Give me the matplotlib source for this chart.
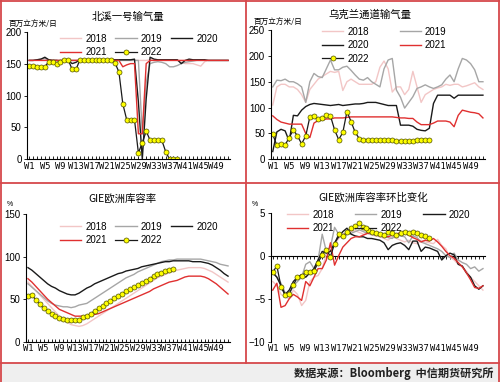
import matplotlib
matplotlib.use("Agg")
import matplotlib.pyplot as plt
from matplotlib.lines import Line2D
from matplotlib.patches import Rectangle

plt.rcParams['font.family'] = ['Liberation Sans', 'Noto Sans CJK SC', 'DejaVu Sans']

weeks = list(range(1, 53))
week_labels = ["W%d" % w for w in weeks]
label_weeks = list(range(1, 53, 4))

# ---- 北溪一号输气量 (百万立方米/日)
nord_2018 = [155,155,156,155,155,156,155,155,155,156,155,155,155,156,155,155,155,156,155,155,155,155,156,155,155,155,155,155,155,155,155,156,155,155,155,155,155,155,155,152,150,150,150,148,146,153,155,155,155,155,155,155]
nord_2019 = [155,155,156,157,158,156,155,155,155,155,155,155,155,155,155,155,155,155,155,155,155,155,155,155,155,155,155,155,155,40,120,150,152,153,152,150,145,145,147,150,152,153,154,155,155,155,155,155,155,155,155,155]
nord_2020 = [155,155,156,157,160,156,155,155,154,155,155,150,152,156,156,156,156,156,156,156,156,156,156,156,156,156,156,157,90,0,95,160,157,156,156,156,156,156,156,150,155,157,156,156,156,156,155,155,155,155,155,155]
nord_2021 = [155,155,155,155,155,155,155,155,155,155,155,155,155,155,155,155,155,155,155,155,155,155,155,155,145,148,150,150,40,40,150,155,155,155,155,155,155,155,155,155,155,155,155,155,155,155,155,155,155,155,155,155]
nord_2022 = [146,146,145,144,145,153,153,149,152,156,156,141,141,156,156,156,155,155,156,156,156,156,151,137,87,62,62,62,10,26,44,30,30,30,30,12,0,0,0]

# ---- 乌克兰通道输气量 (百万立方米/日)
ukr_2018 = [105,140,145,145,140,140,135,125,110,135,145,155,160,165,170,168,170,133,150,155,150,145,145,145,145,150,178,190,175,130,140,140,125,135,170,140,110,125,130,135,138,140,145,143,145,145,140,142,145,148,140,135]
ukr_2019 = [140,153,152,155,150,150,146,140,110,150,166,160,158,175,192,173,173,178,180,172,163,155,153,158,150,145,140,175,192,195,134,120,99,110,121,137,140,144,140,137,140,144,155,163,150,175,195,192,185,173,150,150]
ukr_2020 = [15,53,58,55,35,85,84,95,102,106,108,107,106,105,104,105,106,104,105,106,107,107,108,110,110,110,108,106,104,104,104,66,66,66,64,58,56,55,60,108,124,124,124,124,118,124,124,124,124,124,124,124]
ukr_2021 = [84,77,72,70,68,68,68,68,50,42,70,75,76,78,78,80,80,80,81,82,82,82,82,82,82,82,82,82,82,82,81,80,80,79,79,72,67,67,67,70,74,74,74,72,63,85,95,93,91,90,88,80]
ukr_2022 = [48,27,30,28,42,57,45,30,45,82,83,77,80,85,84,57,38,52,92,73,52,40,38,38,38,37,37,37,37,37,36,36,36,36,36,37,37,37,37]

# ---- GIE欧洲库容率 (%)
gie_2018 = [70,65,60,55,50,45,40,35,30,26,23,20,19,18,19,21,24,27,30,33,36,39,42,45,48,51,54,57,60,63,66,69,72,75,77,79,81,83,84,85,86,87,87,87,87,86,84,82,79,76,73,70]
gie_2019 = [68,64,60,56,52,48,45,43,42,41,41,40,41,43,44,45,48,51,54,57,60,63,66,69,72,75,77,79,82,84,86,88,90,92,94,95,96,96,97,97,97,97,97,97,97,96,95,94,93,91,90,89]
gie_2020 = [87,84,80,76,72,68,65,63,60,58,56,55,55,57,60,63,65,68,70,72,74,76,78,80,81,83,84,85,86,88,89,90,91,92,93,94,94,95,95,95,95,95,94,94,94,93,92,90,87,84,80,77]
gie_2021 = [74,70,65,60,55,50,46,42,38,36,34,32,30,30,30,30,31,32,33,35,37,39,41,43,45,47,49,51,53,55,57,59,62,64,66,68,70,71,72,74,76,77,77,77,77,76,74,71,68,64,60,56]
gie_2022 = [54,55,49,44,39,36,33,30.5,28,26.6,25.5,25.5,25.5,26,28.6,30.5,33,36,39,42,45,48,51,54,56,59,61.5,64,66.6,69,71.7,74,76.8,79,81,83,84.6,85]

# ---- GIE欧洲库容率环比变化 (%)
chg_2018 = [-3,-3.5,-4.5,-4.8,-5,-4.0,-4.5,-5.8,-5.2,-3,-2.5,-2.3,-1.5,0.2,0.5,1.3,2.0,2.5,2.7,2.8,2.9,2.7,2.5,2.6,2.4,2.3,2.2,2.0,1.8,2.2,2.0,1.8,1.6,1.8,1.5,1.4,1.8,1.6,1.5,1.4,1.9,1.2,0.8,-0.2,-0.5,-1.0,-1.3,-1.8,-2.5,-3.0,-3.5,-4.0]
chg_2019 = [-1.8,-2.5,-3.2,-4.3,-4.5,-3.5,-3,-2.5,-1.0,-0.7,-1.5,-0.5,2.5,0.5,1.0,3.3,2.5,2.0,2.5,2.6,2.8,3.0,2.8,2.6,2.5,2.4,2.6,2.3,2.1,2.0,2.5,2.3,2.2,1.5,2.3,2.1,1.6,1.4,1.2,1.0,0.8,0.5,0.0,-0.2,0.3,-0.5,-0.8,-1.0,-1.5,-1.3,-1.8,-1.5]
chg_2020 = [-2,-2.5,-3.5,-4.5,-4,-3,-2.5,-2.2,-2.5,-2,-1.5,-0.5,0.5,0.3,0.5,1.5,2.2,2.8,3.2,2.5,2.3,2.2,2.2,2.0,2.0,1.9,1.8,1.5,0.7,1.2,1.4,1.5,1.2,0.7,1.7,1.7,0.5,1.0,0.9,0.7,0.5,-0.5,0.0,0.3,0.1,-1.0,-1.2,-2.0,-2.5,-3.5,-3.9,-3.5]
chg_2021 = [-4,-3.2,-6,-5.8,-5,-4.5,-4.8,-5.2,-3.0,-3.5,-2.5,-1.5,-1.5,-0.5,1.5,-1.1,0,1.0,1.5,2.0,2.2,2.2,2.4,2.6,2.7,2.6,2.5,2.3,2.2,2.4,2.5,2.7,2.6,2.4,2.1,1.9,1.6,1.8,1.7,2.0,1.6,1.1,0.5,0.0,-0.3,-0.8,-1.3,-2.0,-2.8,-3.7,-3.8,-3.5]
chg_2022 = [-1.9,-1.2,-3.6,-4.6,-4.4,-3.4,-2.5,-2.4,-1.9,-1.9,-1.8,-0.8,0.1,0.7,-0.1,1.4,2.5,2.3,2.7,3.2,3.4,3.8,3.3,3.0,2.8,2.6,2.5,2.4,2.7,2.6,2.4,2.6,2.8,2.6,2.8,2.6,2.4,2.3,2.1]

years = ["2018", "2019", "2020", "2021", "2022"]
colors = {"2018": "#f2c6c6", "2019": "#a6a6a6", "2020": "#1a1a1a", "2021": "#e03030"}

W, H = 500, 382
fig = plt.figure(figsize=(W / 100, H / 100), dpi=100)
fig.patch.set_facecolor("white")

def fx(px):
    return px / W

def fy(py):
    return 1 - py / H

def make_ax(l, r, t, b):
    return fig.add_axes([fx(l), fy(b), fx(r) - fx(l), fy(t) - fy(b)])

tick_font = dict(family="DejaVu Sans Mono", size=6.3)

def style_ax(ax, ylim, yticks, zero_axis=False):
    ax.set_xlim(0.5, 52.5)
    ax.set_ylim(*ylim)
    ax.set_yticks(yticks)
    ax.set_xticks(label_weeks)
    ax.set_xticklabels([week_labels[w - 1] for w in label_weeks], **tick_font)
    for s in ["top", "right"]:
        ax.spines[s].set_visible(False)
    ax.spines["left"].set_linewidth(0.8)
    ax.tick_params(axis="y", labelsize=7, length=2.5, width=0.6, pad=1.5)
    if zero_axis:
        ax.spines["bottom"].set_visible(False)
        ax.tick_params(axis="x", length=0, pad=2)
        frac = (0 - ylim[0]) / (ylim[1] - ylim[0])
        sec = ax.secondary_xaxis(frac)
        sec.set_xticks(weeks)
        sec.set_xticklabels([])
        sec.tick_params(axis="x", direction="in", length=2, width=0.6)
        sec.spines["bottom"].set_linewidth(0.8)
    else:
        ax.spines["bottom"].set_linewidth(0.8)
        ax.set_xticks(weeks, minor=True)
        ax.tick_params(axis="x", which="both", direction="in", length=2, width=0.6, pad=2)
    ax.patch.set_alpha(0)

def plot_series(ax, data):
    handles = {}
    for y in years[:4]:
        vals = data[y]
        (h,) = ax.plot(weeks[:len(vals)], vals, color=colors[y], lw=1.0)
        handles[y] = h
    v22 = data["2022"]
    (h,) = ax.plot(weeks[:len(v22)], v22, color="#1a1a1a", lw=0.9, marker="o",
                   markersize=3.6, markerfacecolor="#ffff00", markeredgecolor="#505000",
                   markeredgewidth=0.5)
    handles["2022"] = h
    return handles

def add_legend(ax, handles, order, ncol, x, y, colsp):
    ax.legend([handles[k] for k in order], order, ncol=ncol, loc="upper left",
              bbox_to_anchor=(fx(x), fy(y)), bbox_transform=fig.transFigure,
              frameon=False, fontsize=7, handlelength=2.2, handletextpad=0.4,
              columnspacing=colsp, labelspacing=0.35, borderpad=0.2)

# Panel 1
ax1 = make_ax(27.3, 230, 31.7, 159.3)
style_ax(ax1, (0, 200), [0, 50, 100, 150, 200])
h = plot_series(ax1, {"2018": nord_2018, "2019": nord_2019, "2020": nord_2020, "2021": nord_2021, "2022": nord_2022})
add_legend(ax1, h, ["2018", "2021", "2019", "2022", "2020"], 3, 53, 27, 0.9)
fig.text(fx(128), fy(17), "北溪一号输气量", ha="center", va="center", fontsize=7.5,
         family=["Noto Sans CJK SC"])
fig.text(fx(9), fy(24), "百万立方米/日", ha="left", va="center", fontsize=5.5,
         family=["Noto Sans CJK SC"])

# Panel 2
ax2 = make_ax(270.7, 485, 30, 159.3)
style_ax(ax2, (0, 250), [0, 50, 100, 150, 200, 250])
h = plot_series(ax2, {"2018": ukr_2018, "2019": ukr_2019, "2020": ukr_2020, "2021": ukr_2021, "2022": ukr_2022})
add_legend(ax2, h, ["2018", "2020", "2022", "2019", "2021"], 2, 315, 20, 3.2)
fig.text(fx(370), fy(15), "乌克兰通道输气量", ha="center", va="center", fontsize=7.5,
         family=["Noto Sans CJK SC"])
fig.text(fx(254), fy(22), "百万立方米/日", ha="left", va="center", fontsize=5.5,
         family=["Noto Sans CJK SC"])

# Panel 3
ax3 = make_ax(26, 230, 214, 341.7)
style_ax(ax3, (0, 150), [0, 50, 100, 150])
h = plot_series(ax3, {"2018": gie_2018, "2019": gie_2019, "2020": gie_2020, "2021": gie_2021, "2022": gie_2022})
add_legend(ax3, h, ["2018", "2021", "2019", "2022", "2020"], 3, 53, 215, 0.9)
fig.text(fx(122), fy(200), "GIE欧洲库容率", ha="center", va="center", fontsize=7.5,
         family=["Noto Sans CJK SC"])
fig.text(fx(7), fy(205), "%", ha="left", va="center", fontsize=5)

# Panel 4
ax4 = make_ax(270.7, 485, 212.7, 341.7)
style_ax(ax4, (-10, 5), [-10, -5, 0, 5], zero_axis=True)
h = plot_series(ax4, {"2018": chg_2018, "2019": chg_2019, "2020": chg_2020, "2021": chg_2021, "2022": chg_2022})
add_legend(ax4, h, ["2018", "2021", "2019", "2022", "2020"], 3, 280, 203, 2.2)
fig.text(fx(373), fy(198), "GIE欧洲库容率环比变化", ha="center", va="center", fontsize=7.5,
         family=["Noto Sans CJK SC"])
fig.text(fx(252), fy(204), "%", ha="left", va="center", fontsize=5)

# Bottom strip and frame
fig.patches.append(Rectangle((0, 0), 1, fy(363), transform=fig.transFigure,
                             facecolor="#efefef", edgecolor="none", zorder=-1))
fig.text(fx(494), fy(373), "数据来源：Bloomberg  中信期货研究所", ha="right", va="center",
         fontsize=8, fontweight="bold", family=["Noto Sans CJK SC"], color="#222222")

red = "#d6484b"
frame_lines = [
    ((fx(1), fx(1)), (0, 1)),
    ((fx(499), fx(499)), (0, 1)),
    ((0, 1), (fy(1), fy(1))),
    ((0, 1), (fy(363), fy(363))),
    ((0, 1), (fy(183), fy(183))),
    ((fx(246), fx(246)), (fy(363), 1)),
]
for xs, ys in frame_lines:
    fig.add_artist(Line2D(xs, ys, transform=fig.transFigure, color=red, lw=1.3))

fig.savefig("out.png", dpi=100)
